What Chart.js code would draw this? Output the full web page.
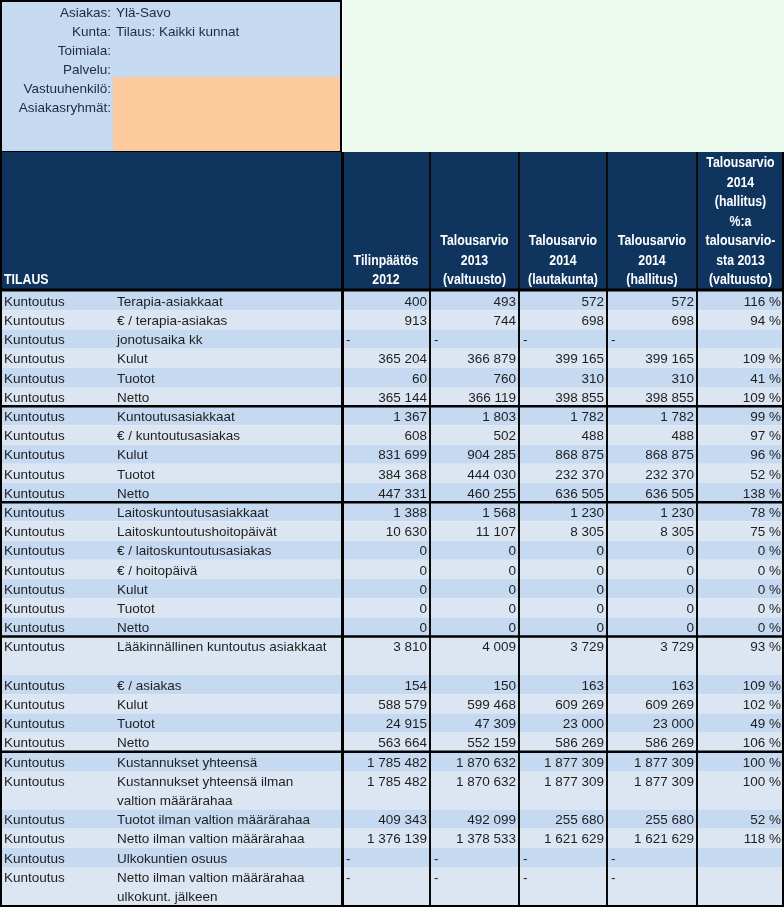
<!DOCTYPE html>
<html>
<head>
<meta charset="utf-8">
<script src="https://cdn.jsdelivr.net/npm/chart.js@4/dist/chart.umd.min.js"></script>
<style>
  html, body { margin: 0; padding: 0; background: #fff; }
  canvas { display: block; }
</style>
</head>
<body>
<canvas id="c" width="784" height="908"></canvas>
<script>
// info box at the top
const infoLabels = ['Asiakas:', 'Kunta:', 'Toimiala:', 'Palvelu:', 'Vastuuhenkilö:', 'Asiakasryhmät:'];
const infoValues = ['Ylä-Savo', 'Tilaus: Kaikki kunnat', '', '', '', ''];

// column headers
const firstHeader = 'TILAUS';
const columnHeaders = [
  ['Tilinpäätös', '2012'],
  ['Talousarvio', '2013', '(valtuusto)'],
  ['Talousarvio', '2014', '(lautakunta)'],
  ['Talousarvio', '2014', '(hallitus)'],
  ['Talousarvio', '2014', '(hallitus)', '%:a', 'talousarvio-', 'sta 2013', '(valtuusto)']
];

// rows
const orderName = 'Kuntoutus';
const rowLabels = [
  ['Terapia-asiakkaat'], ['€ / terapia-asiakas'], ['jonotusaika kk'], ['Kulut'], ['Tuotot'], ['Netto'],
  ['Kuntoutusasiakkaat'], ['€ / kuntoutusasiakas'], ['Kulut'], ['Tuotot'], ['Netto'],
  ['Laitoskuntoutusasiakkaat'], ['Laitoskuntoutushoitopäivät'], ['€ / laitoskuntoutusasiakas'], ['€ / hoitopäivä'], ['Kulut'], ['Tuotot'], ['Netto'],
  ['Lääkinnällinen kuntoutus asiakkaat', ''], ['€ / asiakas'], ['Kulut'], ['Tuotot'], ['Netto'],
  ['Kustannukset yhteensä'], ['Kustannukset yhteensä ilman', 'valtion määrärahaa'], ['Tuotot ilman valtion määrärahaa'],
  ['Netto ilman valtion määrärahaa'], ['Ulkokuntien osuus'], ['Netto ilman valtion määrärahaa', 'ulkokunt. jälkeen']
];
// index of the last row of each block
const groupEnds = [5, 10, 17, 22, 28];

// values (null = "-")
const tilinpaatos2012 = [400, 913, null, 365204, 60, 365144,
  1367, 608, 831699, 384368, 447331,
  1388, 10630, 0, 0, 0, 0, 0,
  3810, 154, 588579, 24915, 563664,
  1785482, 1785482, 409343, 1376139, null, null];
const talousarvio2013 = [493, 744, null, 366879, 760, 366119,
  1803, 502, 904285, 444030, 460255,
  1568, 11107, 0, 0, 0, 0, 0,
  4009, 150, 599468, 47309, 552159,
  1870632, 1870632, 492099, 1378533, null, null];
const talousarvio2014Ltk = [572, 698, null, 399165, 310, 398855,
  1782, 488, 868875, 232370, 636505,
  1230, 8305, 0, 0, 0, 0, 0,
  3729, 163, 609269, 23000, 586269,
  1877309, 1877309, 255680, 1621629, null, null];
const talousarvio2014Hall = [572, 698, null, 399165, 310, 398855,
  1782, 488, 868875, 232370, 636505,
  1230, 8305, 0, 0, 0, 0, 0,
  3729, 163, 609269, 23000, 586269,
  1877309, 1877309, 255680, 1621629, null, null];
const muutosPros = [116, 94, null, 109, 41, 109,
  99, 97, 96, 52, 138,
  78, 75, 0, 0, 0, 0, 0,
  93, 109, 102, 49, 106,
  100, 100, 52, 118, null, null];

const valueSeries = [tilinpaatos2012, talousarvio2013, talousarvio2014Ltk, talousarvio2014Hall];

// layout (scale units = pixels of the sheet)
const colEdges = [0, 113, 342, 430, 519, 607, 697, 784];
const headTop = 152, headBottom = 290, bodyTop = 291, unit = 19.2;

const DARK = '#c5d9f1', LIGHT = '#dce6f2', NAVY = '#0f355f';
const BODY_FONT = '13.5px "Liberation Sans", Arial, sans-serif';
const HEAD_FONT = 'bold 14.5px "Liberation Sans", Arial, sans-serif';

function fmt(v) {
  return String(v).replace(/\B(?=(\d{3})+(?!\d))/g, ' ');
}

const tablePlugin = {
  id: 'table',
  beforeDraw(chart) {
    const ctx = chart.ctx;
    const xs = chart.scales.x, ys = chart.scales.y;
    const X = v => xs.getPixelForValue(v);
    const Y = v => ys.getPixelForValue(v);
    const fill = (x0, y0, x1, y1, c) => {
      ctx.fillStyle = c;
      ctx.fillRect(X(x0), Y(y0), X(x1) - X(x0), Y(y1) - Y(y0));
    };
    const line = (x0, y0, x1, y1, w, c) => {
      ctx.strokeStyle = c || '#000';
      ctx.lineWidth = w;
      ctx.beginPath();
      ctx.moveTo(X(x0), Y(y0));
      ctx.lineTo(X(x1), Y(y1));
      ctx.stroke();
    };
    // squeeze < 1 narrows the text (header font is condensed in the sheet)
    const text = (s, x, y, align, font, color, squeeze) => {
      ctx.font = font;
      ctx.fillStyle = color;
      ctx.textAlign = align;
      ctx.textBaseline = 'middle';
      if (squeeze) ctx.fillText(s, X(x), Y(y), ctx.measureText(s).width * squeeze);
      else ctx.fillText(s, X(x), Y(y));
    };

    ctx.save();
    // info box
    fill(0, 0, 342, headTop, DARK);
    fill(113, 77, 342, headTop, '#fcca9c');
    fill(343, 0, 784, headTop, '#edfbee');
    ctx.strokeStyle = '#000';
    ctx.lineWidth = 2;
    ctx.strokeRect(X(1), Y(1), X(341) - X(1), Y(headTop) - Y(1));
    infoLabels.forEach((l, i) => {
      const y = 13 + i * 19.1;
      text(l, 111, y, 'right', BODY_FONT, '#1f2a3a');
      if (infoValues[i]) text(infoValues[i], 116, y, 'left', BODY_FONT, '#1f2a3a');
    });

    // header
    fill(0, headTop, 784, headBottom, NAVY);
    text(firstHeader, 4, 280, 'left', HEAD_FONT, '#fff', 0.85);
    columnHeaders.forEach((lines, c) => {
      const cx = (colEdges[c + 2] + colEdges[c + 3]) / 2;
      lines.forEach((s, k) => {
        const y = 280 - (lines.length - 1 - k) * 19.5;
        text(s, cx, y, 'center', HEAD_FONT, '#fff', 0.85);
      });
    });

    // body rows
    let y = bodyTop;
    let prevDark = false;
    const rowTops = [];
    rowLabels.forEach((lbl, i) => {
      const span = lbl.length;
      const h = span * unit;
      const groupStart = i === 0 || groupEnds.includes(i - 1);
      let dark;
      if (span > 1) dark = false;
      else if (groupStart) dark = true;
      else dark = !prevDark;
      prevDark = dark;
      fill(0, y, 784, y + h, dark ? DARK : LIGHT);
      rowTops.push(y);
      y += h;
    });
    const bodyBottom = y;

    rowLabels.forEach((lbl, i) => {
      const cy = rowTops[i] + unit / 2 + 1.5;
      text(orderName, 4, cy, 'left', BODY_FONT, '#1e1e1e');
      lbl.forEach((s, k) => {
        if (s) text(s, 117, cy + k * unit, 'left', BODY_FONT, '#1e1e1e');
      });
      valueSeries.forEach((series, c) => {
        const v = series[i];
        if (v === null) text('-', colEdges[c + 2] + 4, cy, 'left', BODY_FONT, '#1e1e1e');
        else text(fmt(v), colEdges[c + 3] - 3, cy, 'right', BODY_FONT, '#1e1e1e');
      });
      if (muutosPros[i] !== null) text(muutosPros[i] + ' %', 781, cy, 'right', BODY_FONT, '#1e1e1e');
    });

    // grid lines
    [430, 519, 607, 697].forEach(x => line(x, headTop, x, bodyBottom, 2, '#0a0a0a'));
    line(342.5, headTop, 342.5, bodyBottom, 3, '#000');
    groupEnds.slice(0, -1).forEach(g => {
      const yy = rowTops[g + 1];
      line(0, yy, 784, yy, 2.5, '#000');
    });
    line(0, bodyTop - 1, 784, bodyTop - 1, 3, '#000');
    line(1, headTop, 1, bodyBottom, 2, '#000');
    line(783, headTop, 783, bodyBottom, 2, '#000');
    line(0, bodyBottom + 0.5, 784, bodyBottom + 0.5, 2, '#000');
    ctx.restore();
  }
};

new Chart(document.getElementById('c').getContext('2d'), {
  type: 'scatter',
  data: { datasets: [] },
  options: {
    responsive: false,
    animation: false,
    events: [],
    layout: { padding: 0 },
    plugins: { legend: { display: false }, tooltip: { enabled: false } },
    scales: {
      x: { type: 'linear', min: 0, max: 784, display: false },
      y: { type: 'linear', min: 0, max: 908, reverse: true, display: false }
    }
  },
  plugins: [tablePlugin]
});
</script>
</body>
</html>
